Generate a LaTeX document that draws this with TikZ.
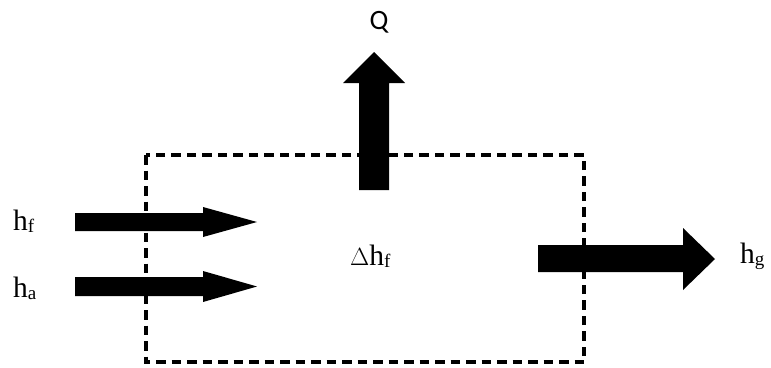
\documentclass[tikz,border=0pt]{standalone}
\usepackage{fontspec}
\setmainfont{Liberation Serif}
\newfontfamily\qfont{Carlito}
\newcommand{\hsub}[2]{h\raisebox{-2pt}{\fontsize{19}{19}\selectfont #2}}
\begin{document}
\begin{tikzpicture}[x=1pt,y=-1pt,
  blockarrow/.style={fill=black,draw=none},
  boundary/.style={draw=black,line width=3.2pt,dash pattern=on 9.5pt off 6pt},
  lbl/.style={inner sep=0pt,anchor=base west,font=\fontsize{29.5}{32}\selectfont}]
\useasboundingbox (0,0) rectangle (771,367);
% control volume
\draw[boundary] (146,155) rectangle (584,362);
% inlet arrows
\fill[blockarrow] (75,213) -- (203,213) -- (203,207) -- (257,222) -- (203,237) -- (203,231) -- (75,231) -- cycle;
\fill[blockarrow] (75,277) -- (203,277) -- (203,271) -- (257,286.5) -- (203,302) -- (203,296) -- (75,296) -- cycle;
% heat arrow
\fill[blockarrow] (359,190) -- (359,83) -- (343,83) -- (374,52) -- (405,83) -- (389,83) -- (389,190) -- cycle;
% outlet arrow
\fill[blockarrow] (538,245) -- (683,245) -- (683,228) -- (715,259) -- (683,290) -- (683,272) -- (538,272) -- cycle;
% labels
\node[lbl] (hf) at (13,230) {\hsub{h}{f}};
\node[lbl] (ha) at (13,297) {\hsub{h}{a}};
\node[lbl] (hg) at (740,263) {\hsub{h}{g}};
\node[lbl] (dh) at (350,265) {$\Delta$\kern0pt\hsub{h}{f}};
\node[inner sep=0pt,anchor=base,font=\qfont\fontsize{28}{30}\selectfont] (Q) at (379,29) {Q};
\end{tikzpicture}
\end{document}
